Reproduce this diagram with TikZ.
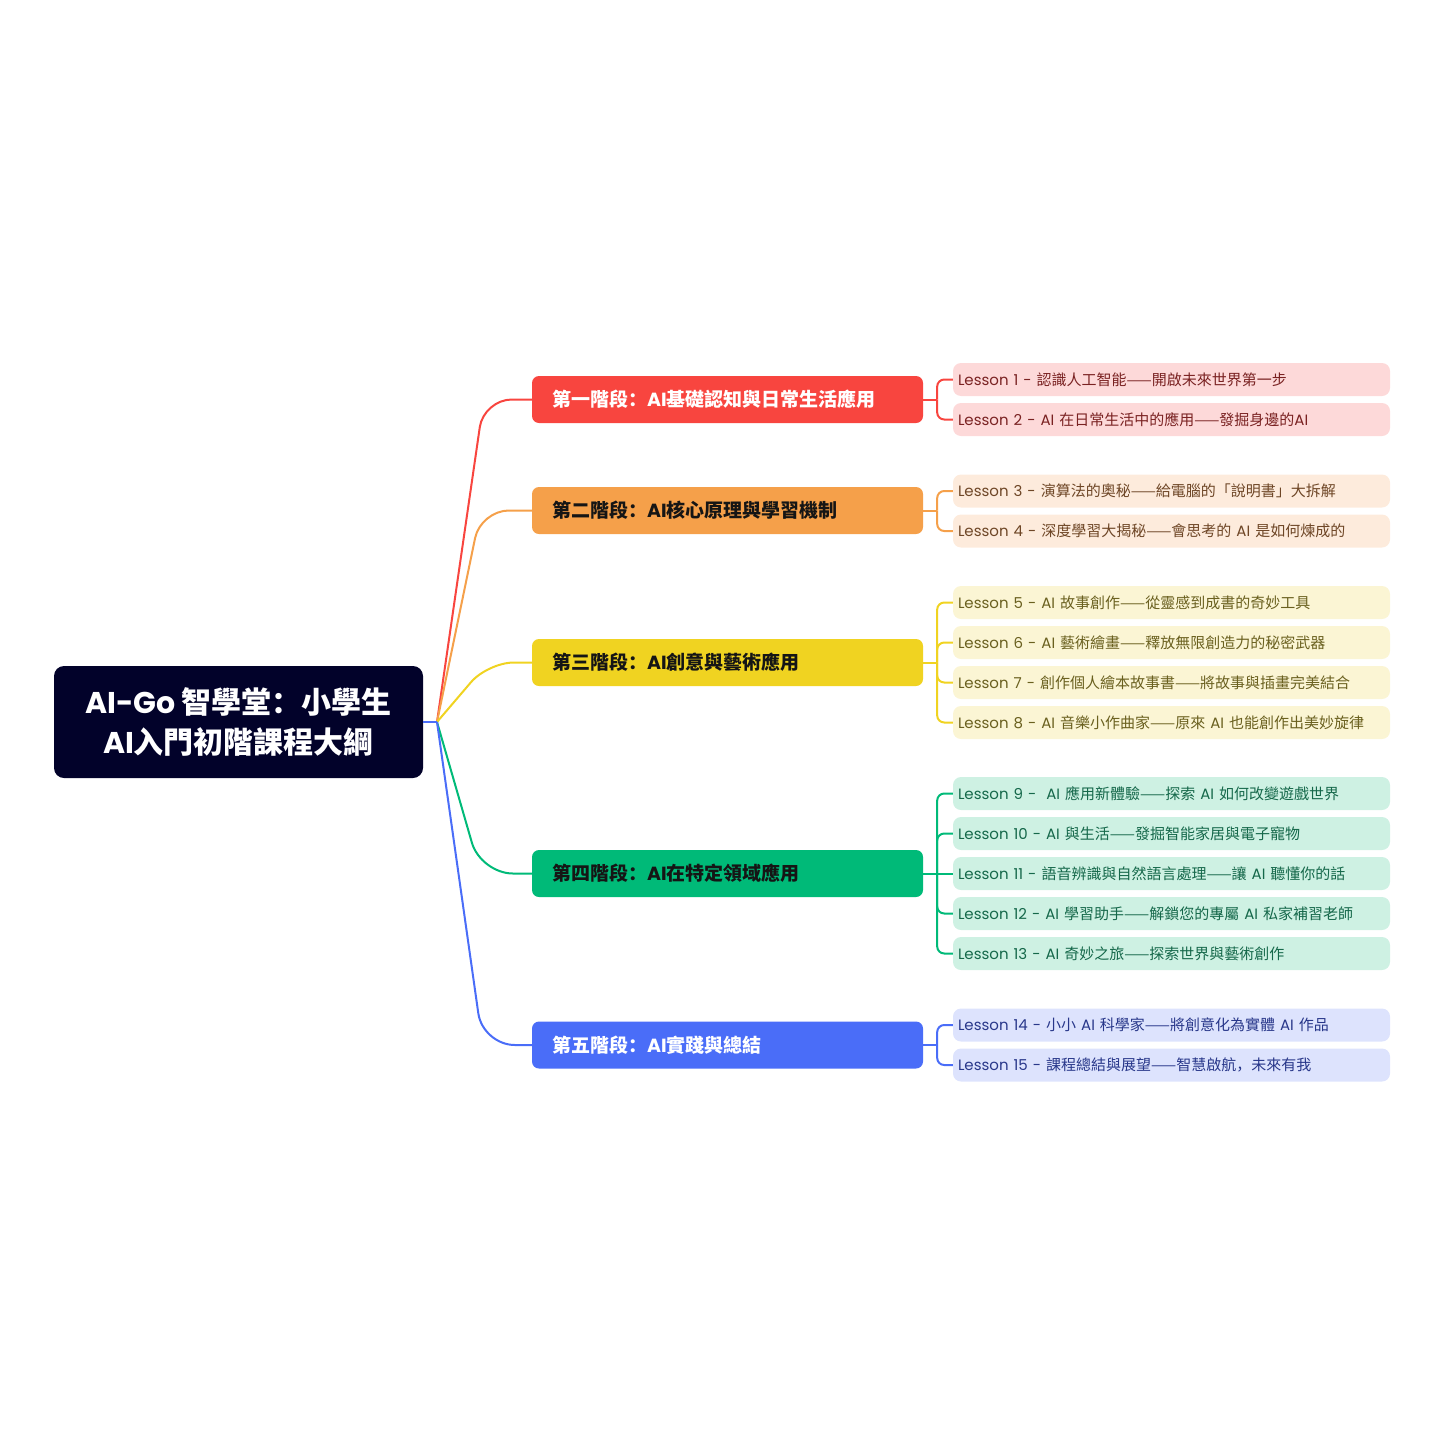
\documentclass[tikz,border=0pt]{standalone}
\usepackage{fontspec}
\setmainfont{Noto Sans CJK SC}
\newfontfamily\latinfont{Poppins}
\newcommand\lat[1]{{\latinfont #1}}
\definecolor{rootc}{HTML}{02022A}
\definecolor{redc}{HTML}{F8453F}
\definecolor{redl}{HTML}{FDD9D9}
\definecolor{redt}{HTML}{7A2222}
\definecolor{orac}{HTML}{F5A04A}
\definecolor{oral}{HTML}{FDEBDC}
\definecolor{orat}{HTML}{6E4626}
\definecolor{yelc}{HTML}{F0D321}
\definecolor{yell}{HTML}{FBF5D4}
\definecolor{yelt}{HTML}{6A601F}
\definecolor{grec}{HTML}{00BA78}
\definecolor{grel}{HTML}{CEF1E3}
\definecolor{gret}{HTML}{15684A}
\definecolor{bluc}{HTML}{4A6DF8}
\definecolor{blul}{HTML}{DDE3FD}
\definecolor{blut}{HTML}{28378A}
\definecolor{darkt}{HTML}{151515}
\begin{document}
\begin{tikzpicture}[x=1pt,y=-1pt,
  rootbox/.style={fill=rootc, rounded corners=10pt, minimum width=369pt, minimum height=112pt,
    text=white, align=center, font=\fontsize{30}{40}\selectfont\bfseries},
  branchbox/.style={rounded corners=7pt, minimum width=391pt, minimum height=47pt,
    inner xsep=20pt, text width=351pt, align=left, font=\fontsize{19}{23}\selectfont\bfseries},
  lessonbox/.style={rounded corners=8pt, minimum width=437pt, minimum height=33pt,
    inner xsep=5pt, text width=427pt, align=left, font=\fontsize{15}{18}\selectfont},
  conn/.style={line width=2pt, line join=round},
  bconn/.style={line width=2pt, rounded corners=7pt}
]
\useasboundingbox (0,0) rectangle (1445,1445);

% root
\node[rootbox] (root) at (238.5,722) {\raisebox{-3pt}{\lat{AI-Go }智學堂：小學生}\\\raisebox{-3pt}{\lat{AI}入門初階課程大綱}};
\coordinate (j) at (437,722);

% branches
\node[branchbox, fill=redc, text=white] (b1) at (727.5,399.5) {第一階段：\lat{AI}基礎認知與日常生活應用};
\node[branchbox, fill=orac, text=darkt] (b2) at (727.5,510.5) {第二階段：\lat{AI}核心原理與學習機制};
\node[branchbox, fill=yelc, text=darkt] (b3) at (727.5,662.5) {第三階段：\lat{AI}創意與藝術應用};
\node[branchbox, fill=grec, text=darkt] (b4) at (727.5,873.5) {第四階段：\lat{AI}在特定領域應用};
\node[branchbox, fill=bluc, text=white] (b5) at (727.5,1045) {第五階段：\lat{AI}實踐與總結};

% lessons
\node[lessonbox, fill=redl, text=redt] (l1) at (1171.5,379.5) {\lat{Lesson 1 - }認識人工智能——開啟未來世界第一步};
\node[lessonbox, fill=redl, text=redt] (l2) at (1171.5,419.5) {\lat{Lesson 2 - AI }在日常生活中的應用——發掘身邊的\lat{AI}};
\node[lessonbox, fill=oral, text=orat] (l3) at (1171.5,491) {\lat{Lesson 3 - }演算法的奧秘——給電腦的「說明書」大拆解};
\node[lessonbox, fill=oral, text=orat] (l4) at (1171.5,531) {\lat{Lesson 4 - }深度學習大揭秘——會思考的\lat{ AI }是如何煉成的};
\node[lessonbox, fill=yell, text=yelt] (l5) at (1171.5,602.5) {\lat{Lesson 5 - AI }故事創作——從靈感到成書的奇妙工具};
\node[lessonbox, fill=yell, text=yelt] (l6) at (1171.5,642.5) {\lat{Lesson 6 - AI }藝術繪畫——釋放無限創造力的秘密武器};
\node[lessonbox, fill=yell, text=yelt] (l7) at (1171.5,682.5) {\lat{Lesson 7 - }創作個人繪本故事書——將故事與插畫完美結合};
\node[lessonbox, fill=yell, text=yelt] (l8) at (1171.5,722.5) {\lat{Lesson 8 - AI }音樂小作曲家——原來\lat{ AI }也能創作出美妙旋律};
\node[lessonbox, fill=grel, text=gret] (l9) at (1171.5,793.5) {\lat{Lesson 9 - \ AI }應用新體驗——探索\lat{ AI }如何改變遊戲世界};
\node[lessonbox, fill=grel, text=gret] (l10) at (1171.5,833.5) {\lat{Lesson 10 - AI }與生活——發掘智能家居與電子寵物};
\node[lessonbox, fill=grel, text=gret] (l11) at (1171.5,873.5) {\lat{Lesson 11 - }語音辨識與自然語言處理——讓\lat{ AI }聽懂你的話};
\node[lessonbox, fill=grel, text=gret] (l12) at (1171.5,913.5) {\lat{Lesson 12 - AI }學習助手——解鎖您的專屬\lat{ AI }私家補習老師};
\node[lessonbox, fill=grel, text=gret] (l13) at (1171.5,953.5) {\lat{Lesson 13 - AI }奇妙之旅——探索世界與藝術創作};
\node[lessonbox, fill=blul, text=blut] (l14) at (1171.5,1025) {\lat{Lesson 14 - }小小\lat{ AI }科學家——將創意化為實體\lat{ AI }作品};
\node[lessonbox, fill=blul, text=blut] (l15) at (1171.5,1065) {\lat{Lesson 15 - }課程總結與展望——智慧啟航，未來有我};

% root -> branches
\draw[conn, redc, rounded corners=28pt] (j) -- ([xshift=-48pt]b1.west) -- (b1.west);
\draw[conn, orac, rounded corners=28pt] (j) -- ([xshift=-51pt]b2.west) -- (b2.west);
\draw[conn, yelc, rounded corners=26pt] (j) -- ([xshift=-44pt]b3.west) -- (b3.west);
\draw[conn, grec, rounded corners=32pt] (j) -- ([xshift=-51pt]b4.west) -- (b4.west);
\draw[conn, bluc, rounded corners=32pt] (j) -- ([xshift=-49pt]b5.west) -- (b5.west);
\draw[conn, bluc] (root.east) -- (j);

% branch -> lessons
\draw[conn, redc] (b1.east) -- ++(14,0) coordinate (k1);
\draw[bconn, redc] (k1) |- (l1.west);
\draw[bconn, redc] (k1) |- (l2.west);
\draw[conn, orac] (b2.east) -- ++(14,0) coordinate (k2);
\draw[bconn, orac] (k2) |- (l3.west);
\draw[bconn, orac] (k2) |- (l4.west);
\draw[conn, yelc] (b3.east) -- ++(14,0) coordinate (k3);
\draw[bconn, yelc] (k3) |- (l5.west);
\draw[bconn, yelc] (k3) |- (l6.west);
\draw[bconn, yelc] (k3) |- (l7.west);
\draw[bconn, yelc] (k3) |- (l8.west);
\draw[conn, grec] (b4.east) -- ++(14,0) coordinate (k4);
\draw[bconn, grec] (k4) |- (l9.west);
\draw[bconn, grec] (k4) |- (l10.west);
\draw[conn, grec] (k4) -- (l11.west);
\draw[bconn, grec] (k4) |- (l12.west);
\draw[bconn, grec] (k4) |- (l13.west);
\draw[conn, bluc] (b5.east) -- ++(14,0) coordinate (k5);
\draw[bconn, bluc] (k5) |- (l14.west);
\draw[bconn, bluc] (k5) |- (l15.west);
\end{tikzpicture}
\end{document}
